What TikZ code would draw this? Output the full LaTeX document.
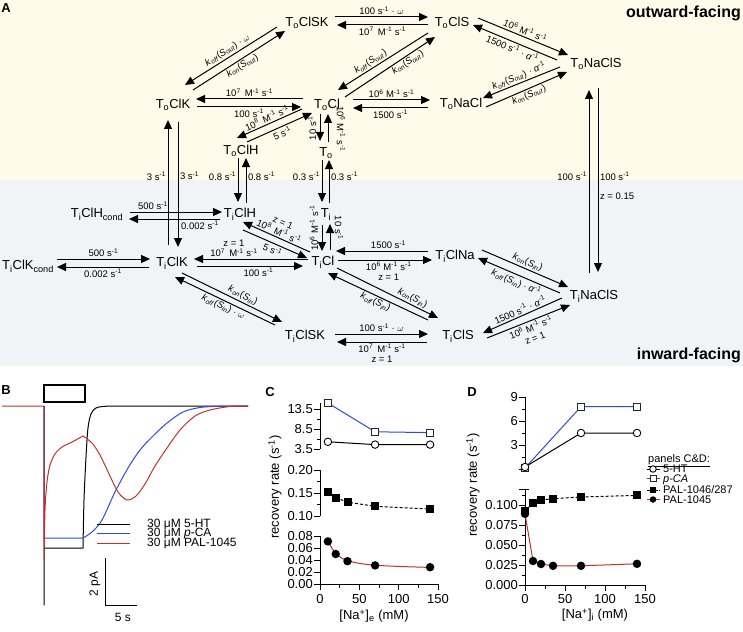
\documentclass[tikz,border=0pt]{standalone}
\usepackage{fontspec}
\setmainfont{Liberation Sans}
\usetikzlibrary{arrows.meta,calc}
\definecolor{cream}{RGB}{255,251,234}
\definecolor{greybg}{RGB}{242,243,246}
\definecolor{tblue}{RGB}{45,75,225}
\definecolor{tred}{RGB}{195,50,40}
\newcommand{\rinv}{\textsuperscript{-1}}
\newcommand{\kof}[1]{\textit{k}\textsubscript{\textit{off}}(\textit{S}\textsubscript{\textit{#1}})}
\newcommand{\kon}[1]{\textit{k}\textsubscript{\textit{on}}(\textit{S}\textsubscript{\textit{#1}})}
\newcommand{\Msi}[1]{10\textsuperscript{#1} M\rinv{} s\rinv}
\tikzset{
 st/.style={font=\fontsize{13}{15}\selectfont, inner sep=0pt, text height=9.3pt, text depth=0pt},
 rl/.style={font=\fontsize{9.5}{10.5}\selectfont, inner sep=1.5pt},
 arr/.style={-{Triangle[length=9pt,width=8pt]}, line width=1pt},
 ttl/.style={font=\bfseries\fontsize{16}{18}\selectfont, inner sep=0pt},
 pl/.style={font=\bfseries\fontsize{13}{15}\selectfont, inner sep=0pt},
 tl/.style={font=\fontsize{13}{15}\selectfont, inner sep=0pt},
 ax/.style={line width=1pt},
 tr/.style={line width=1pt, line join=round},
 osq/.style={rectangle, draw=black!85, fill=white, line width=0.9pt, minimum size=7pt, inner sep=0pt},
 ocir/.style={circle, draw=black, fill=white, line width=0.9pt, minimum size=7.5pt, inner sep=0pt},
 fsq/.style={rectangle, fill=black, minimum size=8pt, inner sep=0pt},
 fcir/.style={circle, fill=black, minimum size=8.5pt, inner sep=0pt},
 lg/.style={font=\fontsize{12}{14}\selectfont, inner sep=0pt, anchor=west},
 lgd/.style={font=\fontsize{11}{12}\selectfont, inner sep=0pt, anchor=west, text height=7.9pt, text depth=0pt},
}
\begin{document}
\begin{tikzpicture}[x=1pt,y=-1pt]
\useasboundingbox (0,0) rectangle (743,631);
\fill[white] (0,0) rectangle (743,631);
\fill[cream] (0,0) rectangle (743,180);
\fill[greybg] (0,180) rectangle (743,366);

\node[pl] (pa) at (6,8) {A};
\node[ttl,anchor=east] (outw) at (741,13) {outward-facing};
\node[ttl,anchor=east] (inw) at (741,355) {inward-facing};

% states
\node[st] (oclsk) at (307,22) {T\textsubscript{o}ClSK};
\node[st] (ocls) at (452,22) {T\textsubscript{o}ClS};
\node[st] (onacls) at (596,63) {T\textsubscript{o}NaClS};
\node[st] (oclk) at (173,104) {T\textsubscript{o}ClK};
\node[st] (ocl) at (327,104) {T\textsubscript{o}Cl};
\node[st] (onacl) at (461,103) {T\textsubscript{o}NaCl};
\node[st] (oclh) at (241,150) {T\textsubscript{o}ClH};
\node[st] (oo) at (326,152) {T\textsubscript{o}};
\node[st] (iclhc) at (97,213) {T\textsubscript{i}ClH\textsubscript{cond}};
\node[st] (iclh) at (240,213) {T\textsubscript{i}ClH};
\node[st] (ii) at (326,213) {T\textsubscript{i}};
\node[st] (iclkc) at (28,265) {T\textsubscript{i}ClK\textsubscript{cond}};
\node[st] (iclk) at (172,262) {T\textsubscript{i}ClK};
\node[st] (icl) at (323,261) {T\textsubscript{i}Cl};
\node[st] (iclna) at (455,255) {T\textsubscript{i}ClNa};
\node[st] (inacls) at (594,295) {T\textsubscript{i}NaClS};
\node[st] (iclsk) at (305,335) {T\textsubscript{i}ClSK};
\node[st] (icls) at (458,335) {T\textsubscript{i}ClS};

% horizontal pairs
\draw[arr] ($(oclsk)+(28,-5)$) -- node[rl,above] (l1) {100 s\rinv{} · $\omega$} ($(ocls)+(-24,-5)$);
\draw[arr] ($(ocls)+(-24,3)$) -- node[rl,below] (l2) {10\textsuperscript{7}\, M\rinv{} s\rinv} ($(oclsk)+(30,3)$);
\draw[arr] ($(ocl)+(-24,-5)$) -- node[rl,above] (l3) {10\textsuperscript{7}\, M\rinv{} s\rinv} ($(oclk)+(23,-5)$);
\draw[arr] ($(oclk)+(24,3)$) -- node[rl,below] (l4) {100 s\rinv} ($(ocl)+(-26,3)$);
\draw[arr] ($(ocl)+(26,-4)$) -- node[rl,above] (l5) {\Msi{6}} ($(onacl)+(-31,-3)$);
\draw[arr] ($(onacl)+(-33,5)$) -- node[rl,below] (l6) {1500 s\rinv} ($(ocl)+(26,4)$);
\draw[arr] ($(iclhc)+(33,-1)$) -- node[rl,above,pos=0.25] (l7) {500 s\rinv} ($(iclh)+(-18,-1)$);
\draw[arr] ($(iclh)+(-20,6)$) -- node[rl,below,pos=0.22] (l8) {0.002 s\rinv} ($(iclhc)+(32,6)$);
\draw[arr] ($(iclkc)+(29,-6)$) -- node[rl,above] (l9) {500 s\rinv} ($(iclk)+(-22,-3)$);
\draw[arr] ($(iclk)+(-23,5)$) -- node[rl,below] (l10) {0.002 s\rinv} ($(iclkc)+(29,2)$);
\draw[arr] ($(icl)+(-15,-2)$) -- node[rl,above,pos=0.65,align=center] (l11) {z = 1\\10\textsuperscript{7}\, M\rinv{} s\rinv} ($(iclk)+(22,-3)$);
\draw[arr] ($(iclk)+(25,4)$) -- node[rl,below,pos=0.58] (l12) {100 s\rinv} ($(icl)+(-20,5)$);
\draw[arr] ($(iclna)+(-27,-4)$) -- node[rl,above,pos=0.43] (l13) {1500 s\rinv} ($(icl)+(13,-10)$);
\draw[arr] ($(icl)+(15,-1)$) -- node[rl,below,pos=0.54,align=center] (l14) {\Msi{6}\\z = 1} ($(iclna)+(-23,5)$);
\draw[arr] ($(iclsk)+(30,-1)$) -- node[rl,above] (l15) {100 s\rinv{} · $\omega$} ($(icls)+(-30,-1)$);
\draw[arr] ($(icls)+(-31,7)$) -- node[rl,below,align=center] (l16) {10\textsuperscript{7}\, M\rinv{} s\rinv\\z = 1} ($(iclsk)+(32,7)$);

% vertical pairs
\draw[arr] ($(iclk)+(-4,-17)$) -- node[rl,left,pos=0.55] (l17) {3 s\rinv} ($(oclk)+(-5,16)$);
\draw[arr] ($(oclk)+(5,18)$) -- node[rl,right,pos=0.43] (l18) {3 s\rinv} ($(iclk)+(6,-15)$);
\draw[arr] ($(oclh)+(-3,8)$) -- node[rl,left,pos=0.41] (l19) {0.8 s\rinv} ($(iclh)+(-2,-11)$);
\draw[arr] ($(iclh)+(6,-10)$) -- node[rl,right,pos=0.6] (l20) {0.8 s\rinv} ($(oclh)+(5,8)$);
\draw[arr] ($(oo)+(-4,8)$) -- node[rl,left,pos=0.38] (l21) {0.3 s\rinv} ($(ii)+(-4,-11)$);
\draw[arr] ($(ii)+(3,-10)$) -- node[rl,right,pos=0.63] (l22) {0.3 s\rinv} ($(oo)+(3,8)$);
\draw[arr] ($(ocl)+(-7,10)$) -- ($(oo)+(-6,-11)$);
\draw[arr] ($(oo)+(2,-10)$) -- ($(ocl)+(1,10)$);
\node[rl,rotate=90] (l23) at (312,128) {10 s\rinv};
\node[rl,rotate=-90] (l24) at (341,129) {\Msi{6}};
\draw[arr] ($(ii)+(-4,12)$) -- ($(icl)+(-1,-10)$);
\draw[arr] ($(icl)+(7,-11)$) -- ($(ii)+(4,11)$);
\node[rl,rotate=90] (l25) at (314,228) {\Msi{6}};
\node[rl,rotate=-90] (l26) at (339,228) {10 s\rinv};
\draw[arr] ($(inacls)+(-5,-22)$) -- node[rl,left,pos=0.53] (l27) {100 s\rinv} ($(onacls)+(-7,27)$);
\draw[arr] ($(onacls)+(2,25)$) -- node[rl,right,pos=0.48] (l28) {100 s\rinv} node[rl,right,pos=0.59] (l29) {z = 0.15} ($(inacls)+(4,-23)$);

% diagonal pairs
\draw[arr] ($(oclsk)+(-30,5)$) -- node[rl,above,sloped] (l30) {\kof{out} · $\omega$} ($(oclk)+(12,-19)$);
\draw[arr] ($(oclk)+(20,-14)$) -- node[rl,below,sloped] (l31) {\kon{out}} ($(oclsk)+(-22,9)$);
\draw[arr] ($(ocls)+(-24,11)$) -- node[rl,above,sloped,pos=0.6] (l32) {\kof{out}} ($(ocl)+(11,-14)$);
\draw[arr] ($(ocl)+(18,-7)$) -- node[rl,below,sloped,pos=0.66] (l33) {\kon{out}} ($(ocls)+(-17,15)$);
\draw[arr] ($(ocls)+(26,-4)$) -- node[rl,above,sloped] (l34) {\Msi{6}} ($(onacls)+(-28,-8)$);
\draw[arr] ($(onacls)+(-39,-3)$) -- node[rl,below,sloped] (l35) {1500 s\rinv{} · \textit{α}\rinv} ($(ocls)+(21,3)$);
\draw[arr] ($(onacls)+(-36,4)$) -- node[rl,above,sloped] (l36) {\kof{out} · \textit{α}\rinv} ($(onacl)+(22,-5)$);
\draw[arr] ($(onacl)+(25,4)$) -- node[rl,below,sloped] (l37) {\kon{out}} ($(onacls)+(-29,9)$);
\draw[arr] ($(ocl)+(-25,5)$) -- node[rl,above,sloped] (l38) {10\textsuperscript{8}\, M\rinv{} s\rinv} ($(oclh)+(-4,-12)$);
\draw[arr] ($(oclh)+(6,-8)$) -- node[rl,below,sloped] (l39) {5 s\rinv} ($(ocl)+(-15,9)$);
\draw[arr] ($(icl)+(-13,-9)$) -- node[rl,above,sloped,align=center] (l40) {z = 1\\10\textsuperscript{8}\, M\rinv{} s\rinv} ($(iclh)+(3,9)$);
\draw[arr] ($(iclh)+(3,17)$) -- node[rl,below,sloped] (l41) {5 s\rinv} ($(icl)+(-16,-3)$);
\draw[arr] ($(iclk)+(10,11)$) -- node[rl,above,sloped,pos=0.58] (l42) {\kon{in}} ($(iclsk)+(-23,-13)$);
\draw[arr] ($(iclsk)+(-30,-10)$) -- node[rl,below,sloped,pos=0.49] (l43) {\kof{in} · $\omega$} ($(iclk)+(3,15)$);
\draw[arr] ($(icl)+(14,7)$) -- node[rl,above,sloped,pos=0.72] (l44) {\kon{in}} ($(icls)+(-20,-17)$);
\draw[arr] ($(icls)+(-30,-15)$) -- node[rl,below,sloped,pos=0.5] (l45) {\kof{in}} ($(icl)+(5,12)$);
\draw[arr] ($(iclna)+(27,-5)$) -- node[rl,above,sloped] (l46) {\kon{in}} ($(inacls)+(-26,-8)$);
\draw[arr] ($(inacls)+(-34,-2)$) -- node[rl,below,sloped] (l47) {\kof{in} · \textit{α}\rinv} ($(iclna)+(23,3)$);
\draw[arr] ($(inacls)+(-32,3)$) -- node[rl,above,sloped] (l48) {1500 s\rinv{} · \textit{α}\rinv} ($(icls)+(25,-2)$);
\draw[arr] ($(icls)+(29,3)$) -- node[rl,below,sloped,align=center] (l49) {\Msi{6}\\z = 1} ($(inacls)+(-24,10)$);

% ---------- panel B
\node[pl] (pb) at (6,390) {B};
\draw[line width=2pt] (44,385) rectangle (85,402);
\draw[tr,black] (44,406) -- (44,605) -- (44,548) -- (83,548) -- plot[smooth] coordinates {(83,548) (84,500) (86,457) (88,428) (91,414) (96,408) (105,406.3) (120,406)} -- (248,406);
\draw[tr,tblue] (44,406) -- (44,538) -- (83,538) -- plot[smooth] coordinates {(83,538) (92,532) (102,520) (115,492) (128,468) (140,450) (152,437) (167,423) (183,412) (200,407.5) (220,406.2) (248,406)};
\draw[tr,tred] (2,406) -- (44,406) -- (44,560) -- plot[smooth] coordinates {(44,560) (45,510) (47,482) (50,465) (55,454) (62,447) (72,442) (83,436)} -- plot[smooth] coordinates {(83,436) (92,443) (100,455) (110,476) (118,492) (127,500) (136,496) (145,484) (155,466) (167,448) (180,430) (195,416) (210,410) (230,406.5) (248,406)};
\node[lg] (bl1) at (147,524) {30 μM 5-HT};
\node[lg] (bl2) at (147,533.5) {30 μM \textit{p}-CA};
\node[lg] (bl3) at (147,543) {30 μM PAL-1045};
\draw[tr] ($(bl1.west)+(-50,0)$) -- ($(bl1.west)+(-17,0)$);
\draw[tr,tblue] ($(bl2.west)+(-50,0)$) -- ($(bl2.west)+(-17,0)$);
\draw[tr,tred] ($(bl3.west)+(-50,0)$) -- ($(bl3.west)+(-17,0)$);
\draw[tr] (105,558) -- (105,605) -- (137,605);
\node[font=\fontsize{12}{14}\selectfont, rotate=90, inner sep=0pt] (sbv) at (95,584) {2 pA};
\node[font=\fontsize{12}{14}\selectfont, inner sep=0pt] (sbh) at (123,617) {5 s};

% ---------- panel C
\node[pl] (pc) at (270,392) {C};
\draw[ax] (320,403) -- (320,449);
\foreach \y/\t [count=\i] in {449/3.5,429/8.5,409/13.5} {\draw[ax] (314,\y) -- (320,\y); \node[tl,anchor=east] (cta\i) at (313,\y) {\t};}
\foreach \y in {439,419} \draw[ax] (316.5,\y) -- (320,\y);
\draw[ax] (320,470) -- (320,516);
\foreach \y/\t [count=\i] in {516/0.10,493/0.15,470/0.20} {\draw[ax] (314,\y) -- (320,\y); \node[tl,anchor=east] (ctb\i) at (313,\y) {\t};}
\foreach \y in {504.5,481.5} \draw[ax] (316.5,\y) -- (320,\y);
\draw[ax] (320,536) -- (320,584) -- (438,584);
\foreach \y/\t [count=\i] in {584/0.00,572/0.02,560/0.04,548/0.06,536/0.08} {\draw[ax] (314,\y) -- (320,\y); \node[tl,anchor=east] (ctc\i) at (313,\y) {\t};}
\foreach \x/\t [count=\i] in {320/0,359.3/50,398.7/100,438/150} {\draw[ax] (\x,584) -- (\x,590); \node[tl] (cxt\i) at (\x,599) {\t};}
\foreach \x in {339.7,379,418.3} \draw[ax] (\x,584) -- (\x,587.5);
\node[tl] (cxl) at (374,616) {[Na\textsuperscript{+}]\textsubscript{e} (mM)};
\node[tl,rotate=90] (cyl) at (275,487) {recovery rate (s\rinv)};
% data C
\draw[tr,tblue] (327.9,403) -- (375.1,431.8) -- (430.1,432.6);
\draw[tr] (327.9,441.8) -- (375.1,444.6) -- (430.1,444.6);
\draw[tr,dash pattern=on 3pt off 2pt] (327.9,491.6) -- (335.7,497.6) -- (347.5,502.2) -- (375.1,506.3) -- (430.1,509);
\draw[tr,tred] plot[smooth,tension=0.6] coordinates {(327.9,541.4) (335.7,553) (347.5,560.6) (375.1,565.2) (430.1,567.4)};
\foreach \x/\y [count=\i] in {327.9/403,375.1/431.8,430.1/432.6} \node[osq] (cs\i) at (\x,\y) {};
\foreach \x/\y [count=\i] in {327.9/441.8,375.1/444.6,430.1/444.6} \node[ocir] (cc\i) at (\x,\y) {};
\foreach \x/\y [count=\i] in {327.9/491.6,335.7/497.6,347.5/502.2,375.1/506.3,430.1/509} \node[fsq] (cf\i) at (\x,\y) {};
\foreach \x/\y [count=\i] in {327.9/541.4,335.7/554,347.5/561.2,375.1/565.4,430.1/567.2} \node[fcir] (cr\i) at (\x,\y) {};

% ---------- panel D
\node[pl] (pd) at (472,392) {D};
\draw[ax] (525,397) -- (525,469);
\foreach \y/\t [count=\i] in {469/,445/3,421/6,397/9} {\draw[ax] (519,\y) -- (525,\y); \node[tl,anchor=east] (dta\i) at (518,\y) {\t};}
\foreach \y in {457,433,409} \draw[ax] (521.5,\y) -- (525,\y);
\draw[ax] (525,489) -- (525,585) -- (645,585);
\foreach \y/\t [count=\i] in {585/0.000,565/0.025,545/0.050,525/0.075,505/0.100} {\draw[ax] (519,\y) -- (525,\y); \node[tl,anchor=east] (dtb\i) at (518,\y) {\t};}
\draw[ax] (519,489) -- (529,489);
\foreach \y in {575,555,535,515,495} \draw[ax] (521.5,\y) -- (525,\y);
\foreach \x/\t [count=\i] in {525/0,565/50,605/100,645/150} {\draw[ax] (\x,585) -- (\x,591); \node[tl] (dxt\i) at (\x,599) {\t};}
\foreach \x in {545,585,625} \draw[ax] (\x,585) -- (\x,588.5);
\node[tl] (dxl) at (595,615) {[Na\textsuperscript{+}]\textsubscript{i} (mM)};
\node[tl,rotate=90] (dyl) at (473,485) {recovery rate (s\rinv)};
% data D
\draw[tr,tblue] (525,468) -- (581,406.6) -- (637,406.6);
\draw[tr] (525,467) -- (581,433) -- (637,433);
\draw[tr,dash pattern=on 3pt off 2pt] (525,511.4) -- (533,502.6) -- (541,500.2) -- (553,498.6) -- (581,497) -- (637,495.4);
\draw[tr,tred] (525,513.8) -- (533,561) -- (541,564) -- (553,565.8) -- (581,565.8) -- (637,563.8);
\foreach \x/\y [count=\i] in {525/468,581/406.6,637/406.6} \node[osq] (ds\i) at (\x,\y) {};
\foreach \x/\y [count=\i] in {525/467,581/433,637/433} \node[ocir] (dc\i) at (\x,\y) {};
\foreach \x/\y [count=\i] in {525/511.4,533/502.6,541/500.2,553/498.6,581/497,637/495.4} \node[fsq] (df\i) at (\x,\y) {};
\foreach \x/\y [count=\i] in {525/513.8,533/561,541/564,553/565.8,581/565.8,637/563.8} \node[fcir] (dr\i) at (\x,\y) {};

% legend
\node[lgd] (lgt) at (648,459) {\underline{panels C\&D:}};
\node[lgd] (lt1) at (663,469) {5-HT};
\node[lgd] (lt2) at (663,478.5) {\textit{p-CA}};
\node[lgd] (lt3) at (663,490) {PAL-1046/287};
\node[lgd] (lt4) at (663,499.5) {PAL-1045};
\draw[tr] ($(lt1.west)+(-16,0)$) -- ($(lt1.west)+(-3,0)$);
\draw[tr,tblue] ($(lt2.west)+(-16,0)$) -- ($(lt2.west)+(-3,0)$);
\draw[tr,dash pattern=on 2.5pt off 1.5pt] ($(lt3.west)+(-16,0)$) -- ($(lt3.west)+(-3,0)$);
\draw[tr,tred] ($(lt4.west)+(-16,0)$) -- ($(lt4.west)+(-3,0)$);
\node[ocir,minimum size=6.5pt] (lm1) at ($(lt1.west)+(-10,0)$) {};
\node[osq,minimum size=6pt] (lm2) at ($(lt2.west)+(-10,0)$) {};
\node[fsq,minimum size=6.5pt] (lm3) at ($(lt3.west)+(-10,0)$) {};
\node[fcir,minimum size=6.5pt] (lm4) at ($(lt4.west)+(-10,0)$) {};
\end{tikzpicture}
\end{document}
